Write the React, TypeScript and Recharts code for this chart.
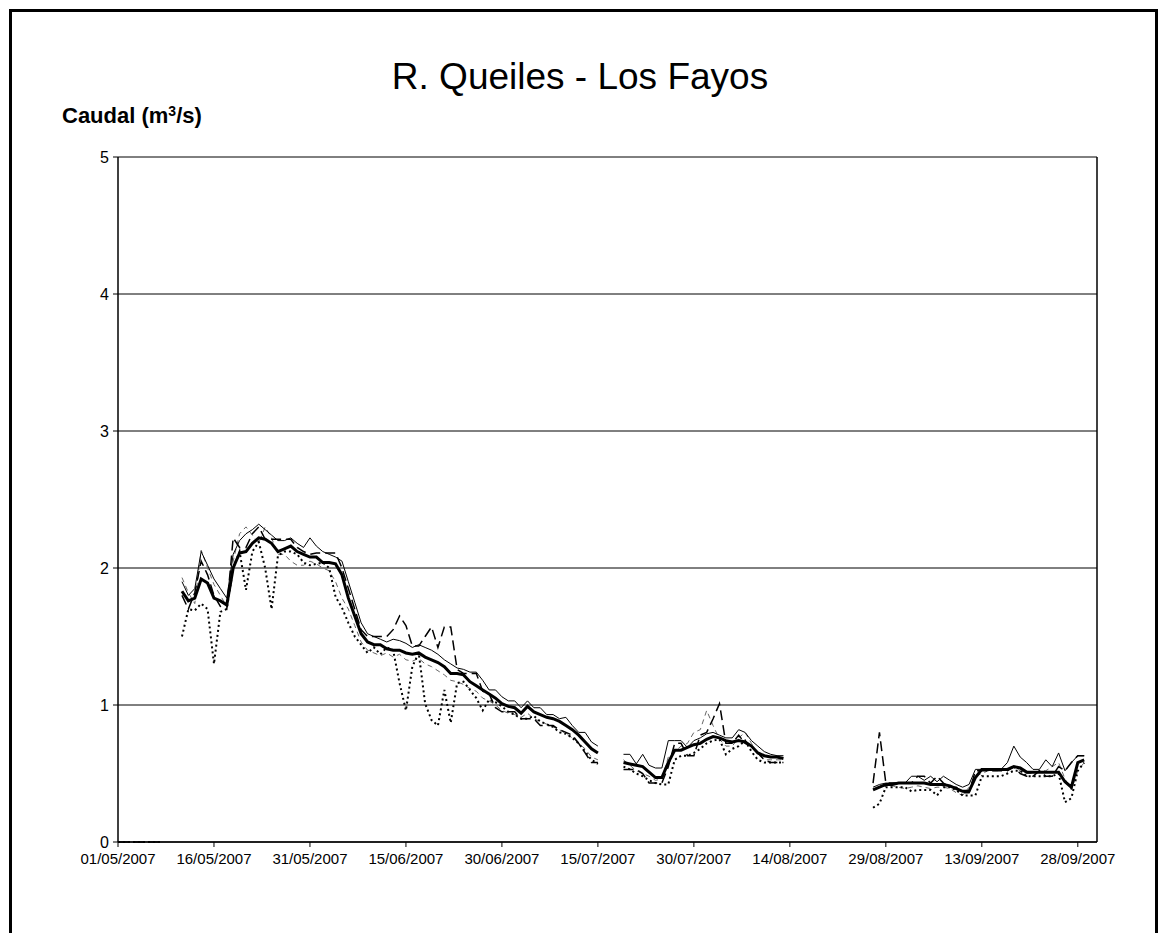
import React from 'react';
import { LineChart, Line, XAxis, YAxis, CartesianGrid, ReferenceLine } from 'recharts';

// days counted from 01/05/2007
const tickDays = [0, 15, 30, 45, 60, 75, 90, 105, 120, 135, 150];
const tickLabels = [
  "01/05/2007", "16/05/2007", "31/05/2007", "15/06/2007", "30/06/2007", "15/07/2007",
  "30/07/2007", "14/08/2007", "29/08/2007", "13/09/2007", "28/09/2007",
];

// first run at zero (days 0-7)
const zeroRun = [0, 0, 0, 0, 0, 0, 0, 0];

// segment 1: days 10-75
const media1 = [
  1.83, 1.76, 1.78, 1.92, 1.89, 1.78, 1.76, 1.73, 2.0, 2.11, 2.12, 2.18, 2.22, 2.21, 2.18, 2.12,
  2.14, 2.16, 2.12, 2.10, 2.08, 2.08, 2.04, 2.04, 2.03, 1.95, 1.78, 1.65, 1.52, 1.46, 1.44, 1.44,
  1.41, 1.40, 1.40, 1.38, 1.37, 1.38, 1.35, 1.33, 1.31, 1.28, 1.23, 1.23, 1.22, 1.17, 1.14, 1.11,
  1.08, 1.05, 1.01, 0.99, 0.98, 0.94, 0.99, 0.95, 0.93, 0.91, 0.90, 0.88, 0.85, 0.82, 0.78, 0.73,
  0.68, 0.65,
];
const maxima1 = [
  1.90, 1.80, 1.85, 2.12, 2.02, 1.92, 1.85, 1.78, 2.10, 2.20, 2.25, 2.28, 2.32, 2.28, 2.24, 2.20,
  2.20, 2.22, 2.18, 2.15, 2.22, 2.16, 2.12, 2.10, 2.08, 2.05, 1.90, 1.75, 1.60, 1.52, 1.50, 1.48,
  1.46, 1.48, 1.47, 1.45, 1.42, 1.44, 1.42, 1.40, 1.37, 1.33, 1.30, 1.27, 1.26, 1.24, 1.24, 1.18,
  1.11, 1.11, 1.06, 1.03, 1.03, 0.98, 1.03, 0.98, 0.98, 0.93, 0.93, 0.90, 0.91, 0.85, 0.80, 0.80,
  0.73, 0.70,
];
const rayas1 = [
  1.80, 1.70, 1.82, 2.05, 1.95, 1.80, 1.72, 1.70, 2.22, 2.15, 2.15, 2.25, 2.30, 2.21, 2.21, 2.21,
  2.21, 2.21, 2.15, 2.12, 2.10, 2.11, 2.11, 2.11, 2.11, 2.0, 1.85, 1.70, 1.55, 1.50, 1.50, 1.50,
  1.50, 1.55, 1.65, 1.58, 1.43, 1.43, 1.50, 1.57, 1.42, 1.57, 1.57, 1.26, 1.23, 1.23, 1.23, 1.10,
  1.08, 0.98, 0.95, 0.95, 0.95, 0.90, 0.90, 0.90, 0.85, 0.85, 0.85, 0.82, 0.80, 0.78, 0.72, 0.65,
  0.58, 0.58,
];
const gris1 = [
  1.93, 1.82, 1.74, 2.13, 2.0, 1.88, 1.80, 1.72, 2.05, 2.25, 2.30, 2.24, 2.18, 2.30, 2.22, 2.10,
  2.10, 2.05, 2.02, 2.02, 2.05, 2.03, 2.0, 1.98, 1.90, 1.78, 1.70, 1.58, 1.46, 1.40, 1.38, 1.36,
  1.38, 1.35, 1.37, 1.33, 1.32, 1.34, 1.30, 1.28, 1.25, 1.22, 1.18, 1.17, 1.15, 1.12, 1.10, 1.05,
  1.03, 1.00, 0.96, 0.94, 0.93, 0.91, 0.94, 0.90, 0.88, 0.86, 0.84, 0.82, 0.79, 0.76, 0.72, 0.68,
  0.62, 0.60,
];
const minima1 = [
  1.50, 1.70, 1.69, 1.74, 1.70, 1.30, 1.68, 1.70, 2.00, 2.12, 1.84, 2.12, 2.19, 2.00, 1.70, 2.09,
  2.12, 2.12, 2.10, 2.04, 2.02, 2.03, 2.04, 2.00, 1.79, 1.71, 1.60, 1.50, 1.44, 1.38, 1.42, 1.37,
  1.42, 1.40, 1.16, 0.96, 1.28, 1.38, 1.01, 0.89, 0.85, 1.11, 0.87, 1.16, 1.17, 1.11, 1.05, 0.96,
  1.04, 1.02, 0.99, 0.95, 0.93, 0.90, 0.90, 0.92, 0.88, 0.86, 0.84, 0.80, 0.79, 0.76, 0.72, 0.66,
  0.60, 0.57,
];

// segment 2: days 79-104
const media2 = [
  0.58, 0.57, 0.56, 0.55, 0.51, 0.47, 0.47, 0.58, 0.67, 0.67, 0.69, 0.71, 0.72, 0.75, 0.77, 0.76,
  0.74, 0.73, 0.74, 0.73, 0.70, 0.65, 0.63, 0.62, 0.62, 0.61,
];
const maxima2 = [
  0.64, 0.64, 0.57, 0.64, 0.56, 0.54, 0.54, 0.74, 0.74, 0.74, 0.69, 0.74, 0.76, 0.79, 0.80, 0.78,
  0.76, 0.76, 0.82, 0.80, 0.74, 0.70, 0.66, 0.64, 0.63, 0.63,
];
const rayas2 = [
  0.53, 0.53, 0.53, 0.50, 0.43, 0.43, 0.43, 0.55, 0.72, 0.72, 0.63, 0.63, 0.78, 0.80, 0.90, 1.01,
  0.72, 0.72, 0.78, 0.72, 0.70, 0.65, 0.60, 0.58, 0.58, 0.58,
];
const gris2 = [
  0.60, 0.56, 0.52, 0.50, 0.48, 0.45, 0.46, 0.62, 0.66, 0.70, 0.72, 0.80, 0.82, 0.96, 0.85, 0.75,
  0.70, 0.70, 0.76, 0.80, 0.72, 0.64, 0.60, 0.60, 0.60, 0.60,
];
const minima2 = [
  0.55, 0.53, 0.50, 0.48, 0.45, 0.43, 0.42, 0.42, 0.60, 0.63, 0.63, 0.65, 0.68, 0.72, 0.74, 0.75,
  0.64, 0.68, 0.70, 0.74, 0.66, 0.60, 0.58, 0.58, 0.58, 0.58,
];

// segment 3: days 118-151
const media3 = [
  0.38, 0.40, 0.42, 0.42, 0.43, 0.43, 0.43, 0.43, 0.43, 0.42, 0.42, 0.42, 0.41, 0.39, 0.37, 0.37,
  0.47, 0.53, 0.53, 0.53, 0.53, 0.53, 0.55, 0.54, 0.51, 0.51, 0.51, 0.51, 0.51, 0.51, 0.44, 0.40,
  0.58, 0.60,
];
const maxima3 = [
  0.40, 0.42, 0.43, 0.43, 0.43, 0.43, 0.48, 0.48, 0.45, 0.48, 0.44, 0.48, 0.45, 0.42, 0.40, 0.42,
  0.53, 0.53, 0.53, 0.53, 0.53, 0.58, 0.70, 0.62, 0.58, 0.53, 0.53, 0.60, 0.55, 0.65, 0.52, 0.58,
  0.63, 0.63,
];
const rayas3 = [
  0.43, 0.80, 0.43, 0.43, 0.43, 0.43, 0.43, 0.48, 0.48, 0.43, 0.48, 0.43, 0.40, 0.40, 0.36, 0.36,
  0.52, 0.52, 0.52, 0.52, 0.52, 0.52, 0.55, 0.50, 0.48, 0.48, 0.52, 0.48, 0.48, 0.55, 0.52, 0.58,
  0.63, 0.63,
];
const gris3 = [
  0.38, 0.40, 0.41, 0.41, 0.40, 0.39, 0.40, 0.41, 0.40, 0.39, 0.40, 0.40, 0.39, 0.36, 0.34, 0.40,
  0.48, 0.50, 0.52, 0.52, 0.52, 0.54, 0.55, 0.52, 0.50, 0.50, 0.52, 0.52, 0.55, 0.58, 0.46, 0.38,
  0.52, 0.58,
];
const minima3 = [
  0.25, 0.28, 0.40, 0.40, 0.40, 0.40, 0.37, 0.38, 0.38, 0.38, 0.34, 0.40, 0.40, 0.38, 0.34, 0.34,
  0.34, 0.48, 0.48, 0.48, 0.48, 0.50, 0.52, 0.52, 0.48, 0.48, 0.48, 0.48, 0.48, 0.50, 0.29, 0.32,
  0.52, 0.58,
];

type Row = { day: number; media?: number | null; maxima?: number | null; rayas?: number | null; gris?: number | null; minima?: number | null };

const segments = [
  { start: 10, media: media1, maxima: maxima1, rayas: rayas1, gris: gris1, minima: minima1 },
  { start: 79, media: media2, maxima: maxima2, rayas: rayas2, gris: gris2, minima: minima2 },
  { start: 118, media: media3, maxima: maxima3, rayas: rayas3, gris: gris3, minima: minima3 },
];

const rows: Row[] = [];
for (let d = 0; d <= 153; d++) {
  rows.push({ day: d, media: null, maxima: null, rayas: null, gris: null, minima: null });
}
zeroRun.forEach((v, i) => {
  rows[i].rayas = v;
  rows[i].minima = v;
});
segments.forEach((s) => {
  s.media.forEach((v, i) => {
    const r = rows[s.start + i];
    r.media = v;
    r.maxima = s.maxima[i];
    r.rayas = s.rayas[i];
    r.gris = s.gris[i];
    r.minima = s.minima[i];
  });
});

const font = "'Liberation Sans', Arial, sans-serif";

export default function App() {
  return (
    <div style={{ position: 'fixed', left: 0, top: 0, width: 1164, height: 933, background: '#fff', fontFamily: font, overflow: 'hidden' }}>
      <div style={{ position: 'absolute', left: 9, top: 9, width: 1143, height: 940, border: '3px solid #000' }} />
      <div style={{ position: 'absolute', left: 0, width: 1164, top: 55, textAlign: 'center', fontSize: 37, lineHeight: '44px', color: '#000' }}>
        <span style={{ position: 'relative', left: -2 }}>R. Queiles - Los Fayos</span>
      </div>
      <div style={{ position: 'absolute', left: 62, top: 102, fontSize: 22, fontWeight: 'bold', lineHeight: '28px', color: '#000' }}>
        Caudal (m<sup style={{ fontSize: 14, verticalAlign: 'top', position: 'relative', top: -5 }}>3</sup>/s)
      </div>
      <div style={{ position: 'absolute', left: 0, top: 0 }}>
        <LineChart width={1164} height={933} data={rows} margin={{ top: 157, left: 58, right: 67, bottom: 61 }}>
          <CartesianGrid vertical={false} stroke="#000" strokeWidth={1} />
          <XAxis
            dataKey="day"
            type="number"
            domain={[0, 153]}
            ticks={tickDays}
            tickFormatter={(v: number) => tickLabels[tickDays.indexOf(v)] ?? ''}
            interval={0}
            axisLine={{ stroke: '#000', strokeWidth: 1.5 }}
            tickLine={{ stroke: '#000' }}
            tickSize={5}
            tickMargin={6}
            tick={{ fill: '#000', fontSize: 15, fontFamily: font }}
            height={30}
          />
          <YAxis
            domain={[0, 5]}
            ticks={[0, 1, 2, 3, 4, 5]}
            interval={0}
            axisLine={{ stroke: '#000', strokeWidth: 1.5 }}
            tickLine={{ stroke: '#000' }}
            tickSize={5}
            tickMargin={4}
            tick={{ fill: '#000', fontSize: 16, fontFamily: font }}
            width={60}
          />
          <ReferenceLine x={153} stroke="#000" strokeWidth={1.5} />
          <Line dataKey="gris" stroke="#666" strokeWidth={1} strokeDasharray="5 4" dot={false} isAnimationActive={false} />
          <Line dataKey="maxima" stroke="#000" strokeWidth={1} dot={false} isAnimationActive={false} />
          <Line dataKey="minima" stroke="#000" strokeWidth={2} strokeDasharray="2 3" dot={false} isAnimationActive={false} />
          <Line dataKey="rayas" stroke="#000" strokeWidth={1.5} strokeDasharray="10 5" dot={false} isAnimationActive={false} />
          <Line dataKey="media" stroke="#000" strokeWidth={3} dot={false} isAnimationActive={false} />
        </LineChart>
      </div>
    </div>
  );
}
